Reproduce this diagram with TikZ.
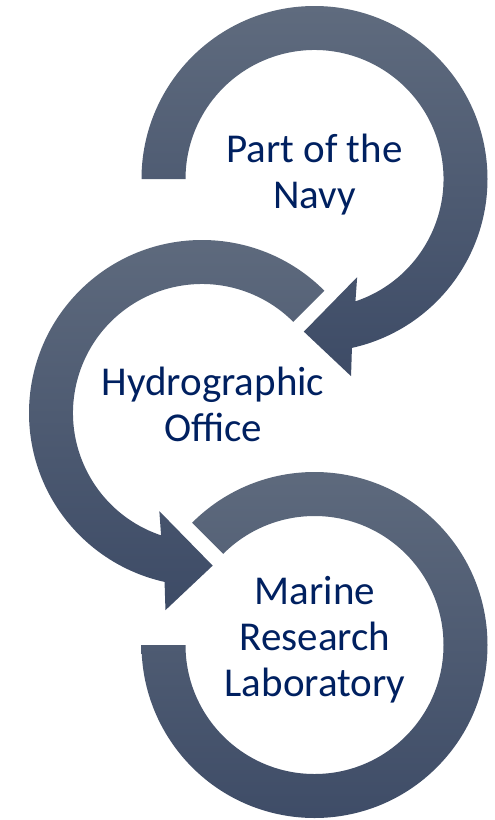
\documentclass[tikz,border=0pt]{standalone}
\usepackage{fontspec}
\setmainfont{Carlito}
\usetikzlibrary{calc}
\definecolor{ringtop}{HTML}{5F6B7E}
\definecolor{ringbottom}{HTML}{3D4B66}
\definecolor{ringtextcol}{HTML}{002060}

\begin{document}
\begin{tikzpicture}[x=0.5pt,y=0.5pt,
  ring/.style={top color=ringtop,bottom color=ringbottom,draw=none},
  ringtext/.style={align=center,text=ringtextcol,inner sep=0pt,
    font=\fontsize{20.5}{23}\selectfont}]
\useasboundingbox (0,0) rectangle (494,-820);
\coordinate (c1) at (314.5,-179);
\coordinate (c2) at (202,-413);
\coordinate (c3) at (314.5,-645);

\shade[ring] ($(c1)+(180:173)$) arc[start angle=180,end angle=-77.5,radius=173]
  -- ($(c1)+(-79.5:200.5)$) -- ($(c1)+(-94:153)$) -- ($(c1)+(-66.5:107)$)
  -- ($(c1)+(-71.5:129)$) arc[start angle=-71.5,end angle=180,radius=129] -- cycle;
\shade[ring] ($(c2)+(45:173)$) arc[start angle=45,end angle=257.5,radius=173]
  -- ($(c2)+(259.5:200.5)$) -- ($(c2)+(274:153)$) -- ($(c2)+(246.5:107)$)
  -- ($(c2)+(251.5:129)$) arc[start angle=251.5,end angle=45,radius=129] -- cycle;
\shade[ring] ($(c3)+(135:173)$) arc[start angle=135,end angle=-180,radius=173]
  -- ($(c3)+(180:129)$) arc[start angle=-180,end angle=135,radius=129] -- cycle;

\node[ringtext] (navy) at ($(c1)+(0,4.5)$) {Part of the\\Navy};
\node[ringtext] (office) at ($(c2)+(11,8.5)$) {Hydrographic\\Office};
\node[ringtext] (lab) at ($(c3)+(0.5,5)$) {Marine\\Research\\Laboratory};
\end{tikzpicture}
\end{document}
